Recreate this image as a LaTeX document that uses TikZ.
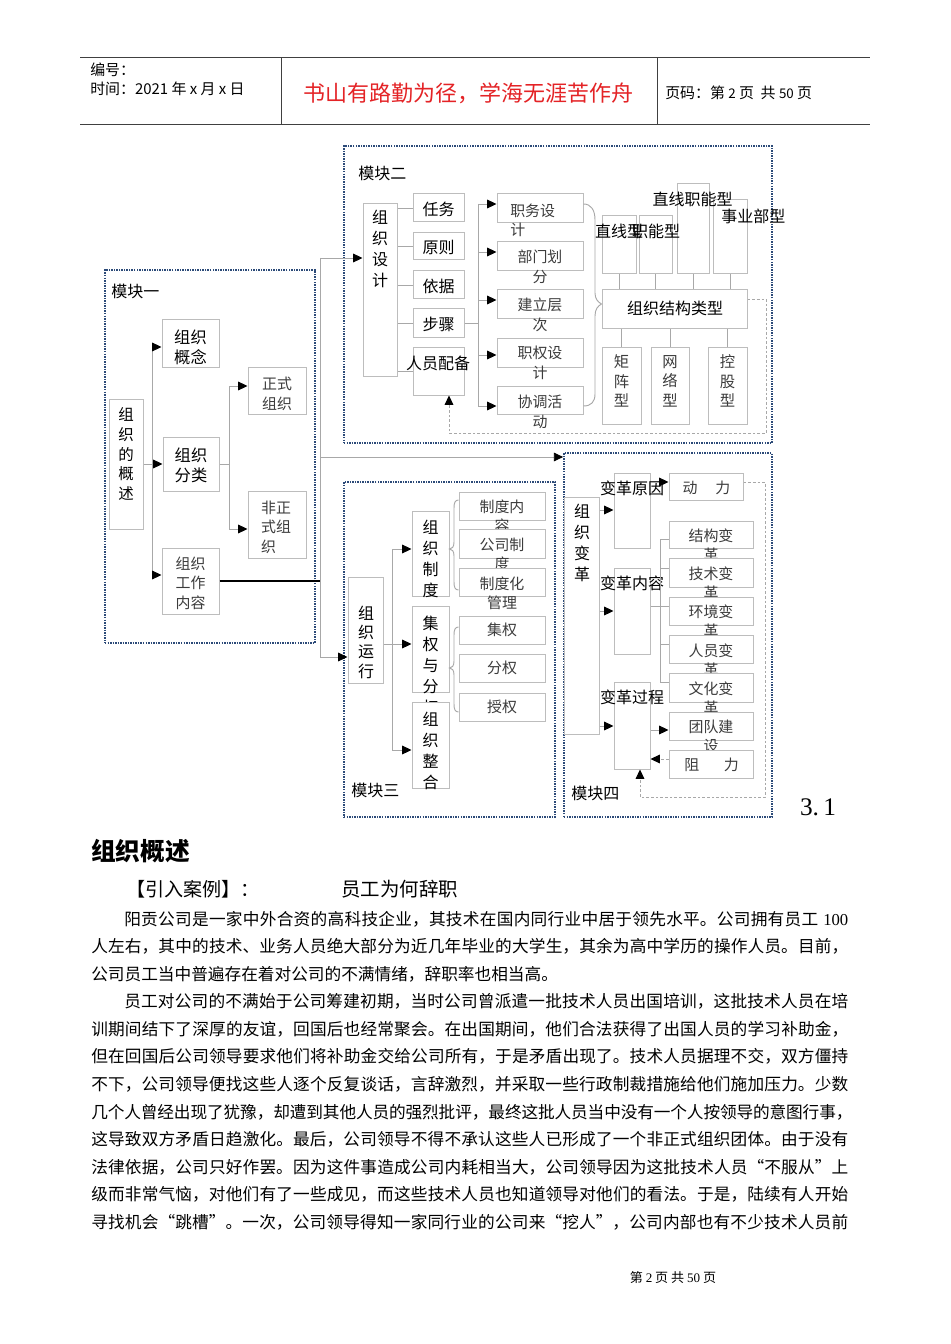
\documentclass[tikz,border=0pt]{standalone}
\usepackage{fontspec}
\setmainfont{Noto Sans CJK SC}
\newfontfamily\serifnum{Liberation Serif}
\usetikzlibrary{arrows.meta,fit}
\XeTeXlinebreaklocale "zh"
\XeTeXlinebreakskip=0pt plus 1pt minus 0.3pt
\definecolor{boxgray}{HTML}{BDBDBD}
\definecolor{lngray}{HTML}{A8A8A8}
\definecolor{navy}{HTML}{2C4A78}
\definecolor{txtgray}{HTML}{3C3C3C}
\definecolor{hdrred}{HTML}{E42326}
\newcommand\fs[2]{\fontsize{#1}{#2}\selectfont}
\newcommand\bx[5]{\node[bx, fit={(#2,#3) (#4,#5)}] (#1) {};}
\newcommand\jl[1]{\parbox{567.75pt}{\parfillskip=0pt\relax #1\par}}
\newcommand\jlw[1]{\parbox{571pt}{\parfillskip=0pt\relax #1\par}}
\newcommand\jli[1]{\parbox{543pt}{\parfillskip=0pt\relax #1\par}}
\begin{document}
\begin{tikzpicture}[x=0.75pt,y=-0.75pt,
  bx/.style={draw=boxgray, line width=0.75pt, fill=white, inner sep=0pt},
  mod/.style={draw=navy, line width=1.3pt, dash pattern=on 1.1pt off 0.8pt, inner sep=0pt},
  ln/.style={draw=lngray, line width=0.7pt},
  arr/.style={ln, -{Triangle[length=7pt,width=6.5pt,color=black]}},
  dsh/.style={draw=lngray, line width=0.6pt, dash pattern=on 2pt off 1.5pt},
  darr/.style={dsh, -{Triangle[length=7pt,width=6.5pt,color=black]}},
  lab/.style={inner sep=0pt, align=center, font=\fs{12}{15}},
  glab/.style={inner sep=0pt, align=center, text=txtgray, font=\fs{11.2}{14.6}},
  vlab/.style={inner sep=0pt, align=center, font=\fs{12}{15.75}},
  hdr/.style={draw=black!75, line width=0.75pt},
  body/.style={inner sep=0pt, anchor=west, font=\fs{12.5}{15}}
]
\useasboundingbox (0,0) rectangle (950,1344);
\fill[white] (0,0) rectangle (950,1344);

% ---------- header ----------
\draw[hdr] (80,58) -- (870,58);
\draw[hdr] (80,125) -- (870,125);
\draw[hdr] (281,58) -- (281,125);
\draw[hdr] (657,58) -- (657,125);
\node[inner sep=0pt, anchor=west, font=\fs{11.2}{13}] (bh) at (90,70) {编号：};
\node[inner sep=0pt, anchor=west, font=\fs{11.2}{13}] (sj) at (90,89) {时间：2021 年 x 月 x 日};
\node[inner sep=0pt, text=hdrred, font=\fs{16.5}{18}] (motto) at (468,93) {书山有路勤为径，学海无涯苦作舟};
\node[inner sep=0pt, anchor=west, font=\fs{11.2}{13}] (ym) at (665,93) {页码：第 {\fs{10}{12}2} 页\ \ 共 {\fs{10}{12}50} 页};

% ---------- module 1 ----------
\node[mod, fit={(105,270) (315,643)}] (m1) {};
\node[lab, anchor=west] (m1t) at (111,291) {模块一};
\bx{gaishu}{109}{399}{143}{529}
\node[vlab, font=\fs{11.6}{14.8}] (gaishut) at (126,454) {组\\织\\的\\概\\述};
\bx{gainian}{162}{319}{219}{367}
\node[lab, font=\fs{12.2}{15}] (gainiant) at (190.5,347) {组织\\概念};
\bx{fenlei}{163}{437}{219}{491}
\node[lab, font=\fs{12.2}{15}] (fenleit) at (191,465) {组织\\分类};
\bx{gongzuo}{162}{548}{219}{614}
\node[glab] (gongzuot) at (190.5,583) {组织\\工作\\内容};
\bx{zhengshi}{248}{367}{306}{414}
\node[glab] (zhengshit) at (277,394) {正式\\组织};
\bx{feizheng}{248}{491}{306}{558}
\node[glab, align=left] (feizhengt) at (276,527) {非正\\式组\\织};

\coordinate (b1t) at (152,347);
\coordinate (b1b) at (152,575);
\draw[ln] (gaishu.east) -- (gaishu.east -| b1t);
\draw[ln] (b1t) -- (b1b);
\draw[arr] (b1t) -- (b1t -| gainian.west);
\draw[arr] (gaishu.east -| b1t) -- (gaishu.east -| fenlei.west);
\draw[arr] (b1b) -- (b1b -| gongzuo.west);
\coordinate (b2t) at (229,386);
\coordinate (b2b) at (229,529);
\draw[ln] (fenlei.east) -- (fenlei.east -| b2t);
\draw[ln] (b2t) -- (b2b);
\draw[arr] (b2t) -- (b2t -| zhengshi.west);
\draw[arr] (b2b) -- (b2b -| feizheng.west);

% ---------- module 2 ----------
\node[mod, fit={(344,146) (772,443)}] (m2) {};
\node[lab, anchor=west] (m2t) at (358,173) {模块二};
\bx{sheji}{363}{204}{397}{376}
\node[vlab] (shejit) at (380,249) {组\\织\\设\\计};
\bx{renwu}{413}{194}{464}{222}
\node[lab] (renwut) at (438.5,209) {任务};
\bx{yuanze}{413}{233}{464}{260}
\node[lab] (yuanzet) at (438.5,247) {原则};
\bx{yiju}{413}{271}{464}{299}
\node[lab] (yijut) at (438.5,286) {依据};
\bx{buzhou}{413}{309}{464}{337}
\node[lab] (buzhout) at (438.5,324) {步骤};
\bx{renyuan}{413}{347}{464}{395}
\node[lab] (renyuant) at (438,363) {人员配备};
\foreach \n in {renwu,yuanze,yiju,buzhou,renyuan}
  \draw[ln] (\n.west) -- (\n.west -| sheji.east);

\bx{zhiwu}{497}{194}{583}{223}
\node[glab, align=left, anchor=west] (zhiwut) at (510,220.5) {职务设\\计};
\bx{bumen}{497}{242}{583}{271}
\node[glab] (bument) at (540,267) {部门划\\分};
\bx{jianli}{497}{290}{583}{318}
\node[glab] (jianlit) at (540,315) {建立层\\次};
\bx{zhiquan}{497}{338}{583}{367}
\node[glab] (zhiquant) at (540,363) {职权设\\计};
\bx{xietiao}{497}{386}{583}{414}
\node[glab] (xietiaot) at (540,412) {协调活\\动};

\coordinate (b3t) at (478,204);
\coordinate (b3b) at (478,406);
\draw[ln] (buzhou.east) -- (buzhou.east -| b3t);
\draw[ln] (b3t) -- (b3b);
\draw[arr] (b3t) -- (b3t -| zhiwu.west);
\draw[arr] (478,252) -- (bumen.west |- 0,252);
\draw[arr] (478,300) -- (jianli.west |- 0,300);
\draw[arr] (478,355) -- (zhiquan.west |- 0,355);
\draw[arr] (b3b) -- (b3b -| xietiao.west);

\bx{zx}{602}{216}{636}{274}
\bx{zn}{639}{216}{672}{274}
\bx{zxzn}{677}{184}{709}{274}
\bx{sy}{713}{200}{747}{274}
\bx{zzlx}{602}{290}{747}{328}
\node[lab] (zzlxt) at (675,308) {组织结构类型};
\node[lab] (zxt) at (619,231) {直线型};
\node[lab] (znt) at (656,231) {职能型};
\node[lab] (zxznt) at (692.5,199) {直线职能型};
\node[lab, anchor=west] (syt) at (721,216) {事业部型};
\foreach \n in {zx,zn,zxzn,sy}
  \draw[ln] (\n.south) -- (\n.south |- zzlx.north);

\draw[ln] (zhiwu.east |- 0,204) .. controls (591,204) and (595,210) .. (595,220)
  -- (595,293) .. controls (595,299) and (598,302) .. (zzlx.west |- 0,304)
  .. controls (598,306) and (595,309) .. (595,316)
  -- (595,394) .. controls (595,402) and (591,406) .. (xietiao.east |- 0,406);

\bx{jz}{602}{347}{641}{424}
\node[glab, font=\fs{11.5}{14.6}] (jzt) at (621.5,381) {矩\\阵\\型};
\bx{wl}{651}{347}{689}{424}
\node[glab, font=\fs{11.5}{14.6}] (wlt) at (670,381) {网\\络\\型};
\bx{kg}{708}{347}{747}{424}
\node[glab, font=\fs{11.5}{14.6}] (kgt) at (727.5,381) {控\\股\\型};
\foreach \n in {jz,wl,kg}
  \draw[ln] (\n.north) -- (\n.north |- zzlx.south);

\draw[darr] (zzlx.east |- 0,299) -- (766,299) -- (766,433) -- (449,433) -- (renyuan.south -| 449,433);

% ---------- module 3 ----------
\node[mod, fit={(344,482) (555,817)}] (m3) {};
\node[lab, anchor=west] (m3t) at (351,790) {模块三};
\bx{yunxing}{348}{577}{383}{683}
\node[vlab, font=\fs{12}{14.5}] (yunxingt) at (366,642) {组\\织\\运\\行};
\bx{zhidu}{412}{511}{449}{596}
\node[vlab] (zhidut) at (430.5,559) {组\\织\\制\\度};
\bx{jiquan}{412}{606}{449}{692}
\node[vlab] (jiquant) at (430.5,665) {集\\权\\与\\分\\权};
\bx{zhenghe}{412}{702}{449}{788}
\node[vlab] (zhenghet) at (430.5,750.5) {组\\织\\整\\合};

\coordinate (b4t) at (392,549);
\coordinate (b4b) at (392,750);
\draw[ln] (yunxing.east |- 0,644) -- (392,644);
\draw[ln] (b4t) -- (b4b);
\draw[arr] (b4t) -- (b4t -| zhidu.west);
\draw[arr] (392,644) -- (jiquan.west |- 0,644);
\draw[arr] (b4b) -- (b4b -| zhenghe.west);

\bx{zdnr}{459}{492}{545}{520}
\node[glab] (zdnrt) at (502,516.5) {制度内\\容};
\bx{gszd}{459}{529}{545}{558}
\node[glab] (gszdt) at (502,554.5) {公司制\\度};
\bx{zdhgl}{459}{568}{545}{596}
\node[glab] (zdhglt) at (502,593.5) {制度化\\管理};
\bx{jq}{459}{616}{545}{644}
\node[glab] (jqt) at (502,630) {集权};
\bx{fq}{459}{654}{545}{682}
\node[glab] (fqt) at (502,668) {分权};
\bx{sq}{459}{693}{545}{721}
\node[glab] (sqt) at (502,707) {授权};

\draw[ln] (zdnr.west |- 0,500) .. controls (455,500) and (454,503) .. (454,508)
  -- (454,542) .. controls (454,547) and (452,549) .. (zhidu.east |- 0,549)
  .. controls (452,549) and (454,551) .. (454,556)
  -- (454,582) .. controls (454,587) and (455,590) .. (zdhgl.west |- 0,590);
\draw[ln] (jq.west |- 0,627) .. controls (455,627) and (454,630) .. (454,635)
  -- (454,661) .. controls (454,666) and (452,668) .. (jiquan.east |- 0,668)
  .. controls (452,668) and (454,670) .. (454,675)
  -- (454,704) .. controls (454,709) and (455,712) .. (sq.west |- 0,712);

% ---------- module 4 ----------
\node[mod, fit={(564,453) (772,817)}] (m4) {};
\node[lab, anchor=west] (m4t) at (571,793) {模块四};
\bx{biange}{564}{497}{599}{734}
\node[vlab] (biangt) at (582,542.5) {组\\织\\变\\革};
\bx{yuanyin}{614}{473}{650}{548}
\node[lab] (yuanyint) at (632,488) {变革原因};
\bx{neirong}{614}{568}{650}{654}
\node[lab] (neirongt) at (632,583) {变革内容};
\bx{guocheng}{614}{682}{650}{769}
\node[lab] (guochengt) at (632,697) {变革过程};

\draw[arr] (biange.east |- 0,510) -- (yuanyin.west |- 0,510);
\draw[arr] (biange.east |- 0,611) -- (neirong.west |- 0,611);
\draw[arr] (biange.east |- 0,726) -- (guocheng.west |- 0,726);

\bx{dongli}{669}{473}{743}{500}
\node[glab] (donglit) at (706.5,488) {动\hspace{1.2em}力};
\draw[arr] (yuanyin.east |- 0,482) -- (dongli.west |- 0,482);

\bx{jg}{669}{521}{753}{548}
\node[glab] (jgt) at (711,545.5) {结构变\\革};
\bx{js}{669}{558}{753}{587}
\node[glab] (jst) at (711,583.5) {技术变\\革};
\bx{hj}{669}{597}{753}{625}
\node[glab] (hjt) at (711,621.5) {环境变\\革};
\bx{ry}{669}{635}{753}{663}
\node[glab] (ryt) at (711,660) {人员变\\革};
\bx{wh}{669}{673}{753}{702}
\node[glab] (wht) at (711,698) {文化变\\革};
\bx{td}{669}{712}{753}{740}
\node[glab] (tdt) at (711,736.5) {团队建\\设};
\bx{zl}{669}{750}{753}{778}
\node[glab] (zlt) at (711.5,765) {阻\hspace{1.65em}力};

\coordinate (b5t) at (660,539);
\coordinate (b5b) at (660,682);
\draw[ln] (neirong.east |- 0,606) -- (660,606);
\draw[ln] (b5t) -- (b5b);
\draw[ln] (b5t) -- (b5t -| jg.west);
\draw[ln] (660,568) -- (js.west |- 0,568);
\draw[ln] (660,606) -- (hj.west |- 0,606);
\draw[ln] (660,644) -- (ry.west |- 0,644);
\draw[ln] (b5b) -- (b5b -| wh.west);
\draw[arr] (guocheng.east |- 0,730) -- (td.west |- 0,730);
\draw[darr] (zl.west |- 0,759) -- (guocheng.east |- 0,759);
\draw[darr] (dongli.east |- 0,482) -- (765,482) -- (765,797) -- (640,797) -- (guocheng.south -| 640,797);

% ---------- links between modules ----------
\coordinate (B0t) at (320,258);
\coordinate (B0m) at (320,457);
\coordinate (B0b) at (320,657);
\draw[ln] (B0t) -- (B0b);
\draw[black, line width=1.1pt] (gongzuo.east) -- (gongzuo.east -| B0t);
\draw[arr] (B0t) -- (B0t -| sheji.west);
\draw[arr] (B0m) -- (B0m -| m4.west);
\draw[arr] (B0b) -- (B0b -| yunxing.west);

\node[inner sep=0pt, font=\serifnum\fs{19}{20}] (num) at (818,807) {3.\,1};

% ---------- text ----------
\node[inner sep=0pt, anchor=west, font=\bfseries\fs{18.5}{20}] (h1) at (91,851) {组织概述};
\node[inner sep=0pt, anchor=west, font=\fs{14.3}{16}] (case) at (126,889) {【引入案例】：};
\node[inner sep=0pt, anchor=west, font=\fs{14.6}{16}] (title) at (341,889) {员工为何辞职};

\node[body] (p1) at (124,919) {\jli{阳贡公司是一家中外合资的高科技企业，其技术在国内同行业中居于领先水平。公司拥有员工\hspace{0.3em}{\serifnum 100}}};
\node[body] (p2) at (91,946.6) {\jl{人左右，其中的技术、业务人员绝大部分为近几年毕业的大学生，其余为高中学历的操作人员。目前，}};
\node[body] (p3) at (91,974.1) {公司员工当中普遍存在着对公司的不满情绪，辞职率也相当高。};
\node[body] (p4) at (124,1001.7) {\jli{员工对公司的不满始于公司筹建初期，当时公司曾派遣一批技术人员出国培训，这批技术人员在培}};
\node[body] (p5) at (91,1029.2) {\jl{训期间结下了深厚的友谊，回国后也经常聚会。在出国期间，他们合法获得了出国人员的学习补助金，}};
\node[body] (p6) at (91,1056.8) {\jl{但在回国后公司领导要求他们将补助金交给公司所有，于是矛盾出现了。技术人员据理不交，双方僵持}};
\node[body] (p7) at (91,1084.3) {\jl{不下，公司领导便找这些人逐个反复谈话，言辞激烈，并采取一些行政制裁措施给他们施加压力。少数}};
\node[body] (p8) at (91,1111.9) {\jlw{几个人曾经出现了犹豫，却遭到其他人员的强烈批评，最终这批人员当中没有一个人按领导的意图行事，}};
\node[body] (p9) at (91,1139.4) {\jl{这导致双方矛盾日趋激化。最后，公司领导不得不承认这些人已形成了一个非正式组织团体。由于没有}};
\node[body] (p10) at (91,1167) {\jl{法律依据，公司只好作罢。因为这件事造成公司内耗相当大，公司领导因为这批技术人员“不服从”上}};
\node[body] (p11) at (91,1194.5) {\jl{级而非常气恼，对他们有了一些成见，而这些技术人员也知道领导对他们的看法。于是，陆续有人开始}};
\node[body] (p12) at (91,1222) {\jl{寻找机会“跳槽”。一次，公司领导得知一家同行业的公司来“挖人”，公司内部也有不少技术人员前}};

\node[inner sep=0pt, font=\fs{9.8}{12}] (ft) at (673,1278) {第 {\serifnum 2} 页 共 {\serifnum 50} 页};
\end{tikzpicture}
\end{document}
